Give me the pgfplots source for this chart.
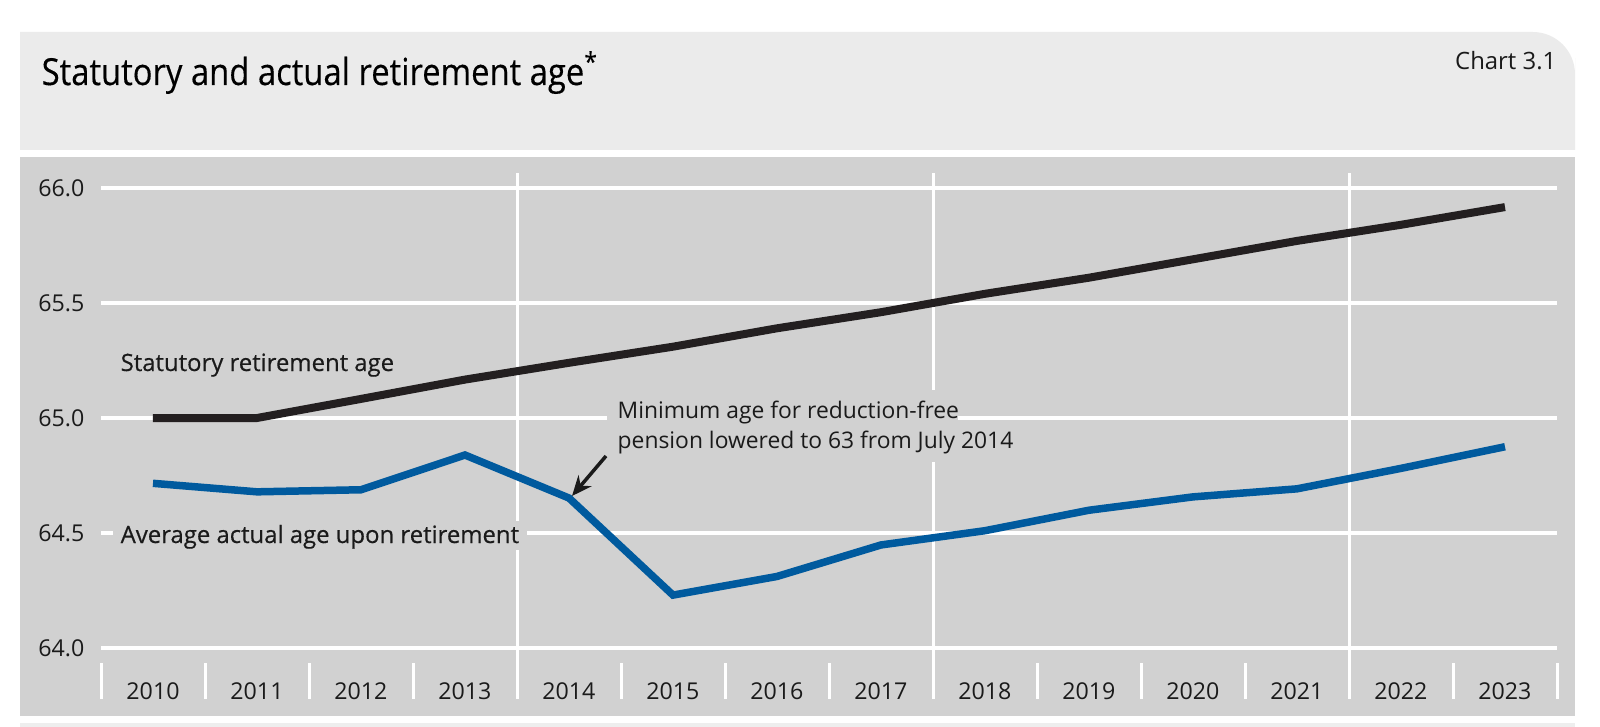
\documentclass[border=0pt]{standalone}
\usepackage{fontspec}
\setmainfont{Open Sans}
\newfontfamily\titlefont[FakeStretch=0.88, FakeBold=0.3]{Open Sans}
\newfontfamily\labelfont[FakeBold=0.4]{Open Sans}
\usepackage{pgfplots}
\pgfplotsset{compat=1.18}
\usetikzlibrary{arrows.meta}

\definecolor{headgray}{HTML}{EBEBEB}
\definecolor{panelgray}{HTML}{D1D1D1}
\definecolor{stripgray}{HTML}{EEEEEE}
\definecolor{statblack}{HTML}{231F20}
\definecolor{actblue}{HTML}{005A9E}
\definecolor{txt}{HTML}{1A1A1A}

\begin{document}
\begin{tikzpicture}[x=0.1mm,y=-0.1mm]
% page = 1600 x 727 px, 1 px = 0.1 mm, y counted from the top
\path (0,0) rectangle (1600,727);
\fill[headgray] (20,150) -- (20,32) -- (1500,32) [rounded corners=12] -- (1575,32) -- (1575,100) [sharp corners] -- (1575,150) -- cycle;
\fill[panelgray] (20,157) rectangle (1575,716);
\fill[stripgray] (20,723) rectangle (1575,727);

% year separators and the three long vertical lines
\foreach \k in {0,...,14}
  \draw[white, line width=0.3mm] ({101+104*\k},663) -- ({101+104*\k},699);
\foreach \k in {4,8,12}
  \draw[white, line width=0.3mm] ({101+104*\k},173) -- ({101+104*\k},699);

\node[anchor=base west, inner sep=0, text=black, font=\titlefont\fontsize{10.6}{12}\selectfont]
  at (41,85) {Statutory and actual retirement age\textsuperscript{*}};
\node[anchor=base east, inner sep=0, text=txt, font=\fontsize{6.8}{9}\selectfont]
  at (1557,70) {Chart 3.1};

\begin{axis}[
    at={(10.1mm,-64.8mm)}, anchor=south west,
    scale only axis, width=145.6mm, height=46mm,
    xmin=2009.5, xmax=2023.5,
    ymin=64, ymax=66,
    clip=false,
    axis line style={draw=none},
    major tick length=0,
    xtick={2010,...,2023},
    ytick={64,64.5,65,65.5,66},
    ymajorgrids,
    major grid style={white, line width=0.33mm},
    /pgf/number format/assume math mode=true,
    ticklabel style={text=txt, font=\fontsize{6.6}{8}\selectfont, inner sep=0pt},
    xticklabel style={anchor=center, yshift=-4.3mm, /pgf/number format/1000 sep={}},
    yticklabel style={anchor=east, xshift=-1.6mm,
      /pgf/number format/fixed, /pgf/number format/fixed zerofill,
      /pgf/number format/precision=1},
  ]
  % statutory retirement age
  \addplot[statblack, line width=0.8mm, mark=none] coordinates {
    (2010,65.0) (2011,65.0) (2012,65.083) (2013,65.167) (2014,65.24)
    (2015,65.31) (2016,65.39) (2017,65.46) (2018,65.54) (2019,65.61)
    (2020,65.69) (2021,65.77) (2022,65.84) (2023,65.917)
  };
  % average actual age upon retirement
  \addplot[actblue, line width=0.75mm, mark=none] coordinates {
    (2010,64.716) (2011,64.679) (2012,64.688) (2013,64.839) (2014,64.652)
    (2015,64.230) (2016,64.311) (2017,64.448) (2018,64.510) (2019,64.599)
    (2020,64.657) (2021,64.692) (2022,64.781) (2023,64.875)
  };
\end{axis}

\node[anchor=base west, inner sep=0, text=txt, font=\labelfont\fontsize{6.8}{8}\selectfont]
  at (120,371) {Statutory retirement age};
\fill[panelgray] (113,521) rectangle (527,550);
\node[anchor=base west, inner sep=0, text=txt, font=\labelfont\fontsize{6.8}{8}\selectfont]
  at (120,543) {Average actual age upon retirement};

\fill[panelgray] (607,390) rectangle (958,433);
\fill[panelgray] (607,433) rectangle (1022,462);
\node[anchor=base west, inner sep=0, text=txt, font=\fontsize{6.5}{8}\selectfont]
  at (617,419) {Minimum age for reduction-free};
\node[anchor=base west, inner sep=0, text=txt, font=\fontsize{6.5}{8}\selectfont]
  at (617,448) {pension lowered to 63 from July 2014};
\draw[txt, line width=0.35mm, -{Stealth[length=2mm, width=1.7mm]}] (606,456) -- (572,496);
\end{tikzpicture}
\end{document}
